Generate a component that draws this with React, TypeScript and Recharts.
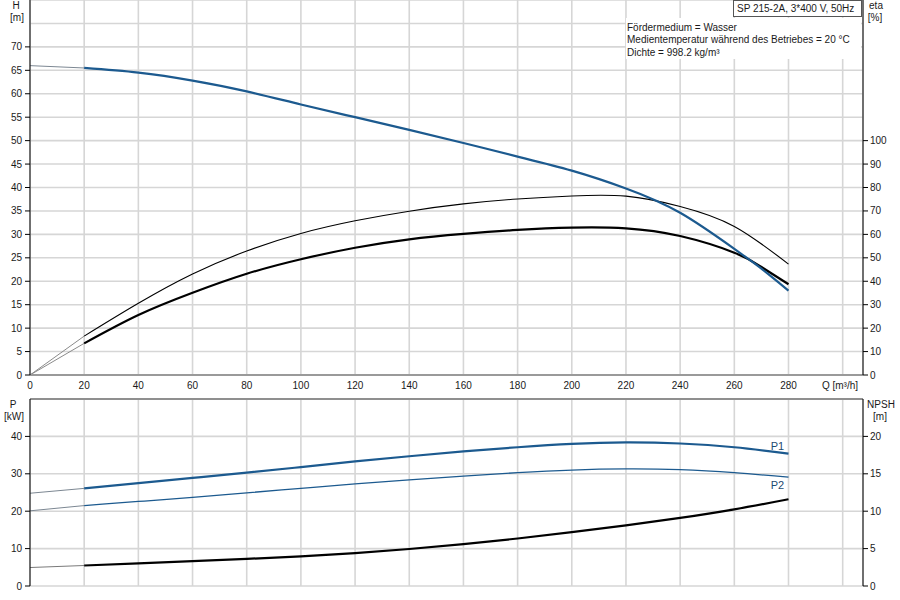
import React from 'react';
import { LineChart, Line, XAxis, YAxis, CartesianGrid, ReferenceLine } from 'recharts';

// ---- axis ticks ----
const qTicks = [0, 20, 40, 60, 80, 100, 120, 140, 160, 180, 200, 220, 240, 260, 280, 300];
const qLabelMax = 280;
const hTicks = [0, 5, 10, 15, 20, 25, 30, 35, 40, 45, 50, 55, 60, 65, 70, 75];
const hLabelMax = 70;
const etaTicks = [0, 10, 20, 30, 40, 50, 60, 70, 80, 90, 100];
const pTicks = [0, 10, 20, 30, 40];
const npshTicks = [0, 5, 10, 15, 20];

// ---- top panel: head and efficiency ----
const qHead = [20, 40, 60, 80, 100, 120, 140, 160, 180, 200, 220, 240, 260, 270, 280];
const headValues = [65.5, 64.5, 62.8, 60.5, 57.7, 55.0, 52.3, 49.5, 46.6, 43.6, 39.8, 34.6, 26.9, 22.7, 18.0];
const qHeadExt = [0, 20];
const headExtValues = [66.0, 65.5];

const qEtaPump = [20, 40, 60, 80, 100, 120, 140, 160, 180, 200, 220, 240, 260, 280];
const etaPumpValues = [16.6, 30.6, 43.1, 52.9, 60.4, 65.8, 69.9, 73.0, 75.1, 76.4, 76.3, 71.9, 63.4, 47.3];
const qEtaTotal = [20, 40, 60, 80, 100, 120, 140, 160, 180, 200, 220, 240, 260, 270, 280];
const etaTotalValues = [13.5, 25.6, 35.1, 43.2, 49.4, 54.3, 57.9, 60.2, 61.9, 62.9, 62.6, 59.3, 52.2, 46.1, 38.7];
const qEtaExt = [0, 20];
const etaPumpExtValues = [0, 16.6];
const etaTotalExtValues = [0, 13.5];

// ---- bottom panel: power and NPSH ----
const qPower = [20, 40, 60, 80, 100, 120, 140, 160, 180, 200, 220, 240, 260, 280];
const p1Values = [26.1, 27.5, 28.9, 30.3, 31.8, 33.3, 34.7, 36.0, 37.1, 38.0, 38.4, 38.1, 37.1, 35.4];
const p2Values = [21.5, 22.6, 23.7, 24.9, 26.1, 27.3, 28.4, 29.4, 30.3, 31.0, 31.3, 31.1, 30.3, 29.1];
const npshValues = [2.74, 3.03, 3.32, 3.62, 3.97, 4.4, 4.95, 5.6, 6.35, 7.2, 8.1, 9.1, 10.25, 11.6];
const qPowerExt = [0, 20];
const p1ExtValues = [24.8, 26.1];
const p2ExtValues = [20.1, 21.5];
const npshExtValues = [2.47, 2.74];

const titleText = 'SP 215-2A, 3*400 V, 50Hz';
const infoLines = [
  'Fördermedium = Wasser',
  'Medientemperatur während des Betriebes = 20 °C',
  'Dichte = 998.2 kg/m³',
];

const rows = (qs: number[], vs: number[]) => qs.map((q, i) => ({ q, v: vs[i] }));

const FONT = '"Liberation Sans", Arial, sans-serif';
const BLUE = '#1c5a8f';
const GRID = '#d6d6d6';
const TXT = '#1a1a1a';

const XTick = (props: any) => {
  const { x, y, payload } = props;
  if (payload.value > qLabelMax) return <g />;
  return (
    <text x={x} y={y + 10} dy="0.35em" textAnchor="middle" fontSize={10} fontFamily={FONT} fill={TXT}>
      {payload.value}
    </text>
  );
};

const makeLeftTick = (max: number) => (props: any) => {
  const { x, y, payload } = props;
  if (payload.value > max) return <g />;
  return (
    <g>
      <line x1={x - 5} x2={x} y1={y} y2={y} stroke="#000" strokeWidth={1} />
      <text x={x - 8} y={y} dy="0.35em" textAnchor="end" fontSize={10} fontFamily={FONT} fill={TXT}>
        {payload.value}
      </text>
    </g>
  );
};

const RightTick = (props: any) => {
  const { x, y, payload } = props;
  return (
    <g>
      <line x1={x} x2={x + 5} y1={y} y2={y} stroke="#000" strokeWidth={1} />
      <text x={x + 7} y={y} dy="0.35em" textAnchor="start" fontSize={10} fontFamily={FONT} fill={TXT}>
        {payload.value}
      </text>
    </g>
  );
};

const EmptyTick = () => <g />;

const endLabel = (name: string, dx: number, dy: number, last: number) => (p: any) => {
  if (p.index !== last) return null;
  return (
    <text x={p.x + dx} y={p.y + dy} dy="0.35em" textAnchor="middle" fontSize={11} fontFamily={FONT} fill="#1d4a70">
      {name}
    </text>
  );
};

const X_DOMAIN: [number, number] = [0, 307.5];

export default function App() {
  return (
    <div style={{ position: 'absolute', left: 0, top: 0, width: 900, height: 600, background: '#fff', overflow: 'hidden' }}>
      <div style={{ position: 'absolute', left: 0, top: 0 }}>
        <LineChart width={900} height={400} margin={{ top: 0, right: 0, left: 0, bottom: 0 }}>
          <CartesianGrid stroke={GRID} strokeWidth={1.6} yAxisId="h" />
          <XAxis
            dataKey="q"
            type="number"
            domain={X_DOMAIN}
            ticks={qTicks}
            height={25}
            tickSize={0}
            tickMargin={0}
            tickLine={false}
            axisLine={{ stroke: '#9a9a9a', strokeWidth: 2 }}
            tick={XTick}
            allowDataOverflow
          />
          <YAxis
            yAxisId="h"
            orientation="left"
            type="number"
            domain={[0, 80]}
            ticks={hTicks}
            width={30}
            tickSize={0}
            tickMargin={0}
            tickLine={false}
            axisLine={{ stroke: '#000', strokeWidth: 1 }}
            tick={makeLeftTick(hLabelMax)}
          />
          <YAxis
            yAxisId="eta"
            orientation="right"
            type="number"
            domain={[0, 160]}
            ticks={etaTicks}
            width={37}
            tickSize={0}
            tickMargin={0}
            tickLine={false}
            axisLine={{ stroke: '#000', strokeWidth: 1 }}
            tick={RightTick}
          />
          <Line yAxisId="h" data={rows(qHeadExt, headExtValues)} dataKey="v" type="linear" stroke="#7c8792" strokeWidth={1} dot={false} isAnimationActive={false} />
          <Line yAxisId="eta" data={rows(qEtaExt, etaPumpExtValues)} dataKey="v" type="linear" stroke="#8a8a8a" strokeWidth={1} dot={false} isAnimationActive={false} />
          <Line yAxisId="eta" data={rows(qEtaExt, etaTotalExtValues)} dataKey="v" type="linear" stroke="#8a8a8a" strokeWidth={1} dot={false} isAnimationActive={false} />
          <Line yAxisId="eta" data={rows(qEtaPump, etaPumpValues)} dataKey="v" type="natural" stroke="#000" strokeWidth={1.1} dot={false} isAnimationActive={false} />
          <Line yAxisId="eta" data={rows(qEtaTotal, etaTotalValues)} dataKey="v" type="natural" stroke="#000" strokeWidth={2.2} dot={false} isAnimationActive={false} />
          <Line yAxisId="h" data={rows(qHead, headValues)} dataKey="v" type="natural" stroke={BLUE} strokeWidth={2.2} dot={false} isAnimationActive={false} />
        </LineChart>
      </div>

      <div style={{ position: 'absolute', left: 0, top: 380 }}>
        <LineChart width={900} height={220} margin={{ top: 19, right: 0, left: 0, bottom: 14 }}>
          <CartesianGrid stroke={GRID} strokeWidth={1.6} yAxisId="p" />
          <XAxis
            dataKey="q"
            type="number"
            domain={X_DOMAIN}
            ticks={qTicks}
            height={0}
            tickSize={0}
            tickMargin={0}
            tickLine={false}
            axisLine={{ stroke: '#9a9a9a', strokeWidth: 2 }}
            tick={EmptyTick}
            allowDataOverflow
          />
          <YAxis
            yAxisId="p"
            orientation="left"
            type="number"
            domain={[0, 50]}
            ticks={pTicks}
            width={30}
            tickSize={0}
            tickMargin={0}
            tickLine={false}
            axisLine={{ stroke: '#000', strokeWidth: 1 }}
            tick={makeLeftTick(40)}
          />
          <YAxis
            yAxisId="n"
            orientation="right"
            type="number"
            domain={[0, 25]}
            ticks={npshTicks}
            width={37}
            tickSize={0}
            tickMargin={0}
            tickLine={false}
            axisLine={{ stroke: '#000', strokeWidth: 1 }}
            tick={RightTick}
          />
          <ReferenceLine yAxisId="p" y={50} stroke="#8f8f8f" strokeWidth={2} />
          <Line yAxisId="p" data={rows(qPowerExt, p1ExtValues)} dataKey="v" type="linear" stroke="#7c8792" strokeWidth={1} dot={false} isAnimationActive={false} />
          <Line yAxisId="p" data={rows(qPowerExt, p2ExtValues)} dataKey="v" type="linear" stroke="#7c8792" strokeWidth={1} dot={false} isAnimationActive={false} />
          <Line yAxisId="n" data={rows(qPowerExt, npshExtValues)} dataKey="v" type="linear" stroke="#7a7a7a" strokeWidth={1} dot={false} isAnimationActive={false} />
          <Line
            yAxisId="p"
            data={rows(qPower, p1Values)}
            dataKey="v"
            type="natural"
            stroke={BLUE}
            strokeWidth={2.2}
            dot={false}
            isAnimationActive={false}
            label={endLabel('P1', -11, -7, qPower.length - 1)}
          />
          <Line
            yAxisId="p"
            data={rows(qPower, p2Values)}
            dataKey="v"
            type="natural"
            stroke={BLUE}
            strokeWidth={1.3}
            dot={false}
            isAnimationActive={false}
            label={endLabel('P2', -11, 8, qPower.length - 1)}
          />
          <Line yAxisId="n" data={rows(qPower, npshValues)} dataKey="v" type="natural" stroke="#000" strokeWidth={2.2} dot={false} isAnimationActive={false} />
        </LineChart>
      </div>

      <svg width={900} height={600} style={{ position: 'absolute', left: 0, top: 0, pointerEvents: 'none' }}>
        <g fontFamily={FONT} fontSize={10} fill={TXT}>
          <text x={16} y={5} dy="0.35em" textAnchor="middle">H</text>
          <text x={17} y={17} dy="0.35em" textAnchor="middle">[m]</text>
          <text x={876} y={5} dy="0.35em" textAnchor="middle">eta</text>
          <text x={875} y={17} dy="0.35em" textAnchor="middle">[%]</text>
          <text x={840} y={385} dy="0.35em" textAnchor="middle">Q [m³/h]</text>
          <text x={13} y={404} dy="0.35em" textAnchor="middle">P</text>
          <text x={14} y={416} dy="0.35em" textAnchor="middle">[kW]</text>
          <text x={881} y={404} dy="0.35em" textAnchor="middle">NPSH</text>
          <text x={880} y={416} dy="0.35em" textAnchor="middle">[m]</text>
        </g>
        <rect x={626} y={18} width={235} height={41} fill="#fff" />
        <rect x={733.5} y={0.5} width={128} height={16} fill="#fff" stroke="#555" strokeWidth={1} />
        <text x={737} y={8} dy="0.35em" fontFamily={FONT} fontSize={10} fill={TXT}>{titleText}</text>
        {infoLines.map((t, i) => (
          <text key={t} x={627} y={27 + i * 12.5} dy="0.35em" fontFamily={FONT} fontSize={10} fill={TXT}>{t}</text>
        ))}
      </svg>
    </div>
  );
}
